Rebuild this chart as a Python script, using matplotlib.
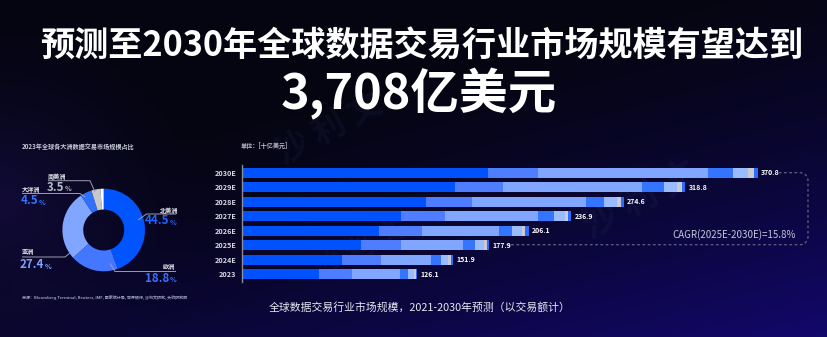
import numpy as np
import matplotlib
matplotlib.use("Agg")
import matplotlib.pyplot as plt
from matplotlib.patches import Wedge

plt.rcParams['font.family'] = ['Noto Sans CJK SC', 'DejaVu Sans']

# ---------------- data ----------------
years = ["2023", "2024E", "2025E", "2026E", "2027E", "2028E", "2029E", "2030E"]
totals = [126.1, 151.9, 177.9, 206.1, 236.9, 274.6, 318.8, 370.8]
seg_na = [55.4, 71.9, 85.6, 98.5, 114.3, 132.3, 153.2, 177.0]
seg_eu = [23.7, 28.0, 28.8, 30.9, 31.6, 33.1, 34.5, 36.0]
seg_as = [34.5, 36.0, 44.6, 55.4, 66.9, 82.0, 100.0, 122.3]
seg_oc = [5.8, 7.2, 8.6, 9.3, 11.5, 12.9, 15.8, 17.8]
seg_sa = [4.0, 5.0, 6.1, 7.0, 7.9, 9.3, 9.3, 10.5]
seg_af = [1.4, 2.0, 2.2, 2.7, 2.4, 3.1, 3.4, 4.3]
seg_ot = [1.3, 1.8, 2.0, 2.3, 2.3, 1.9, 2.6, 2.9]
segments = [seg_na, seg_eu, seg_as, seg_oc, seg_sa, seg_af, seg_ot]
seg_colors = ["#0052FF", "#4F7DFF", "#80A6FF", "#3475FF", "#9BBBFF", "#C9CBD3", "#2D6BFF"]

regions = ["北美洲", "欧洲", "亚洲", "大洋洲", "南美洲", "其他"]
shares = [44.5, 18.8, 27.4, 4.5, 3.5, 1.3]
pie_colors = ["#0055FF", "#4477FF", "#80A6FF", "#3070FF", "#C8C8CC", "#FFFFFF"]

cagr_text = "CAGR(2025E-2030E)=15.8%"
title1 = "预测至2030年全球数据交易行业市场规模有望达到"
title2 = "3,708亿美元"
donut_title = "2023年全球各大洲数据交易市场规模占比"
unit_text = "单位：[十亿美元]"
caption = "全球数据交易行业市场规模，2021-2030年预测（以交易额计）"
source = "来源：Bloomberg Terminal, Reuters, IMF, 国家统计局, 世界银行, 沙利文研究, 头豹研究院"

W, H = 828, 337
fig = plt.figure(figsize=(W / 100, H / 100), dpi=100)

# ---------------- background ----------------
bg = fig.add_axes([0, 0, 1, 1])
bg.set_axis_off()
xs = np.linspace(0, 1, 300)
ys = np.linspace(0, 1, 150)
X, Y = np.meshgrid(xs, ys)
base = np.array([0x05, 0x05, 0x12]) / 255
br = np.array([0x14, 0x08, 0x72]) / 255
lft = np.array([0x18, 0x0e, 0x4c]) / 255
t = np.clip(0.55 * X + 0.85 * Y - 0.45, 0, 1) ** 1.4
g = np.clip(1 - np.hypot((X - 0.0) / 0.25, (Y - 0.6) / 0.55), 0, 1) ** 1.5 * 0.65
img = base[None, None, :] * (1 - t[..., None]) + br[None, None, :] * t[..., None]
img = img * (1 - g[..., None]) + lft[None, None, :] * g[..., None]
bg.imshow(img, extent=[0, W, H, 0], aspect='auto', interpolation='bilinear')
bg.set_xlim(0, W)
bg.set_ylim(H, 0)

# overlay in pixel coords
ov = fig.add_axes([0, 0, 1, 1])
ov.set_axis_off()
ov.set_xlim(0, W)
ov.set_ylim(H, 0)
ov.patch.set_alpha(0)

# watermark
for (wx, wy, s) in [(640, 200, 26), (330, 130, 24), (360, 250, 20)]:
    ov.text(wx, wy, "沙 利 文", color="#2a3a6a", alpha=0.14, fontsize=s,
            rotation=28, ha='center', va='center', fontweight='bold', zorder=0)

# titles
ov.text(422, 46, title1, color="white", fontsize=24.6, fontweight='heavy',
        ha='center', va='center')
ov.text(419, 94, title2, color="white", fontsize=35, fontweight='heavy',
        ha='center', va='center')

# ---------------- donut ----------------
cx, cy, R, Rin = 103.7, 230.0, 41.3, 20.5
start = 90.0
for sh, col in zip(shares, pie_colors):
    ang = sh / 100 * 360
    # y axis is inverted: negative data angles go clockwise visually
    w = Wedge((cx, cy), R, -(start), -(start - ang), width=R - Rin,
              facecolor=col, edgecolor='none')
    ov.add_patch(w)
    start -= ang

ov.text(22, 146, donut_title, color="#C8CBDA", fontsize=4.4, fontweight='bold',
        ha='left', va='center')

lc = "#9A9DB0"
lw = 0.7
# label specs: (name x, name y, number right edge, number y, leader points, colour)
lab = [
    (160, 210, 169, 221, [(138, 220), (146.5, 214), (176, 214)], "#1F66FF"),
    (163, 266.5, 169, 278.5, [(110, 263.5), (115, 271.5), (176, 271.5)], "#3F70F8"),
    (22, 251.5, 44, 265, [(22, 257), (65, 257), (70, 253)], "#7EA3FF"),
    (22, 189.5, 38, 201, [(22, 193.5), (80, 193.5), (85, 197)], "#3375FF"),
    (48, 176.5, 64, 187.5, [(48, 180.7), (90, 180.7), (95, 192)], "#B9BBC4"),
]
for (nx, ny, rx, ry, pts, col), name, sh in zip(lab, regions, shares):
    ov.text(nx, ny, name, color="#E4E6EE", fontsize=4.4, fontweight='bold',
            ha='left', va='center')
    ov.text(rx, ry, f"{sh:.1f}", color=col, fontsize=8.3, fontweight='bold',
            ha='right', va='center')
    ov.text(rx + 0.5, ry + 1.2, "%", color=col, fontsize=5.0, fontweight='bold',
            ha='left', va='center')
    px, py = zip(*pts)
    ov.plot(px, py, color=lc, lw=lw, solid_capstyle='butt')

ov.text(22, 298, source, color="#9DA2C0", fontsize=2.9, fontweight='bold',
        ha='left', va='center')

# ---------------- stacked bars ----------------
px_per_unit = 1 / 0.719
ax_left, ax_w = 242, 580
ax_top, ax_h = 165.4, 116
ax = fig.add_axes([ax_left / W, (H - ax_top - ax_h) / H, ax_w / W, ax_h / H])
ax.patch.set_alpha(0)
ax.set_xlim(0, ax_w / px_per_unit)
ax.set_ylim(-0.5, len(years) - 0.5)
yp = np.arange(len(years))
left = np.zeros(len(years))
for seg, col in zip(segments, seg_colors):
    ax.barh(yp, seg, left=left, height=0.69, color=col, edgecolor='none')
    left += np.array(seg)
for i, tot in enumerate(totals):
    ax.text(left[i] + 2.2, i, f"{tot:.1f}", color="white", fontsize=5.0,
            fontweight='bold', ha='left', va='center')
ax.set_yticks(yp)
ax.set_yticklabels(years, color="#D8DAE4", fontsize=5.2, fontweight='bold')
ax.tick_params(axis='y', length=0, pad=4)
ax.set_xticks([])
for s in ["top", "right", "bottom"]:
    ax.spines[s].set_visible(False)
ax.spines["left"].set_color("#8A8DA0")
ax.spines["left"].set_linewidth(1.0)
ax.spines["left"].set_bounds(-0.55, len(years) - 0.45)

ov.text(241, 145, unit_text, color="#B8BBCC", fontsize=4.4, fontweight='bold',
        ha='left', va='center')

# CAGR bracket (pixel coords)
ytop, ybot, xr, rr = 172.7, 244.7, 808, 8
x_top0 = ax_left + left[-1] * px_per_unit + 21
x_bot0 = ax_left + left[2] * px_per_unit + 17
th1 = np.linspace(-np.pi / 2, 0, 20)
th2 = np.linspace(0, np.pi / 2, 20)
bx = np.concatenate([[x_top0, xr - rr], xr - rr + rr * np.cos(th1),
                     [xr, xr], xr - rr + rr * np.cos(th2), [xr - rr, x_bot0]])
by = np.concatenate([[ytop, ytop], ytop + rr + rr * np.sin(th1),
                     [ytop + rr, ybot - rr], ybot - rr + rr * np.sin(th2), [ybot, ybot]])
ov.plot(bx, by, color="#5F6380", lw=0.9, ls=(0, (2.2, 2.0)))
ov.text(796, 235, cagr_text, color="#C4C8DA", fontsize=7.0,
        ha='right', va='center')

ov.text(420, 307, caption, color="#E6E8F0", fontsize=7.8,
        ha='center', va='center')

fig.savefig("out.png", dpi=100)
